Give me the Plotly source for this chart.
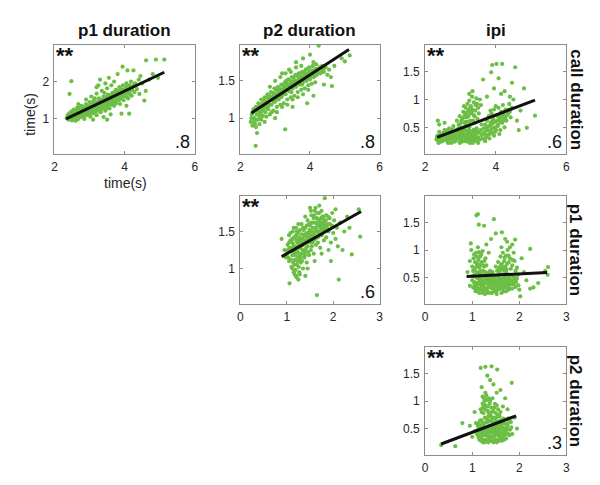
import plotly.graph_objects as go

# ---------------- data ----------------
# Panel: call duration (x) vs p1 duration (y)
call_p1_x = [2.35,2.38,2.40,2.42,2.45,2.48,2.50,2.52,2.55,2.57,
             2.60,2.62,2.65,2.67,2.70,2.72,2.75,2.77,2.80,2.82,
             2.85,2.87,2.90,2.92,2.95,2.97,3.00,3.02,3.05,3.07,
             3.10,3.12,3.15,3.17,3.20,3.22,3.25,3.27,3.30,3.32,
             3.35,3.37,3.40,3.42,3.45,3.47,3.50,3.52,3.55,3.57,
             3.60,3.62,3.65,3.67,3.70,3.72,3.75,3.77,3.80,3.82,
             3.85,3.87,3.90,3.92,3.95,3.97,4.00,4.02,4.05,4.08,
             4.10,4.12,4.15,4.18,4.20,4.25,4.28,4.30,4.35,4.40,
             2.45,2.55,2.62,2.70,2.78,2.85,2.92,3.00,3.05,3.12,
             3.18,3.25,3.30,3.38,3.45,3.50,3.55,3.62,3.70,3.78,
             2.50,2.58,2.66,2.74,2.82,2.88,2.95,3.02,3.08,3.15,
             3.22,3.28,3.35,3.42,3.48,3.58,3.65,3.72,3.85,3.95,
             2.48,2.43,3.30,3.45,3.55,3.94,4.08,3.20,3.70,4.50,
             4.60,4.70,4.45,4.61,4.89,5.13,4.80,4.56,3.91,4.13,
             4.05,3.60,3.40,3.10,4.42,4.95,4.25,3.80,2.60,3.50,
             2.40,2.43,2.47,2.52,2.54,2.58,2.61,2.64,2.66,2.69,
             2.71,2.73,2.76,2.79,2.81,2.84,2.86,2.89,2.91,2.94,
             2.96,2.99,3.01,3.04,3.06,3.09,3.11,3.14,3.16,3.19,
             3.21,3.24,3.26,3.29,3.31,3.34,3.36,3.39,3.41,3.44,
             3.46,3.49,3.51,3.54,3.56,3.59,3.61,3.64,3.66,3.69,
             3.71,3.74,3.76,3.79,3.81,3.84,3.86,3.89,3.91,3.94,
             3.96,3.99,4.01,4.04,4.07,4.11,4.14,4.17,4.22,4.27,
             2.68,2.90,3.05,3.20,3.35,3.50,3.62,3.25,3.42,3.15]
call_p1_y = [1.02,1.10,0.98,1.15,1.05,1.20,0.96,1.12,1.25,1.03,
             1.18,1.08,1.30,0.99,1.15,1.22,1.05,1.35,1.12,1.26,
             1.00,1.18,1.40,1.10,1.28,1.20,1.45,1.06,1.33,1.22,
             1.15,1.50,1.28,1.38,1.10,1.45,1.25,1.55,1.35,1.18,
             1.48,1.30,1.60,1.40,1.22,1.52,1.35,1.65,1.45,1.28,
             1.58,1.42,1.70,1.50,1.35,1.62,1.78,1.48,1.68,1.55,
             1.85,1.40,1.72,1.60,1.90,1.50,1.78,1.65,1.95,1.70,
             1.55,1.85,1.75,2.00,1.62,1.88,1.72,1.95,1.80,2.05,
             1.12,1.08,1.22,1.28,1.20,1.32,1.25,1.30,1.42,1.35,
             1.22,1.40,1.50,1.42,1.38,1.50,1.58,1.55,1.68,1.62,
             1.05,1.15,1.12,1.18,1.08,1.24,1.15,1.20,1.28,1.18,
             1.32,1.20,1.32,1.48,1.28,1.38,1.60,1.45,1.58,1.70,
             2.01,1.67,2.05,1.95,2.10,2.40,2.30,1.85,2.00,1.95,
             1.75,2.05,2.15,2.57,2.59,2.59,2.20,1.49,1.14,1.14,
             1.35,1.12,1.05,0.98,1.67,2.10,2.30,2.20,0.95,0.98,
             1.05,0.99,1.08,1.02,1.16,1.06,1.12,1.02,1.20,1.10,
             1.05,1.30,1.14,1.25,1.18,1.10,1.22,1.30,1.16,1.22,
             1.34,1.12,1.26,1.18,1.38,1.24,1.30,1.42,1.22,1.34,
             1.40,1.28,1.46,1.30,1.42,1.25,1.52,1.36,1.45,1.32,
             1.58,1.44,1.30,1.52,1.40,1.64,1.48,1.38,1.56,1.45,
             1.72,1.55,1.42,1.58,1.75,1.50,1.66,1.55,1.80,1.62,
             1.78,1.60,1.70,1.85,1.58,1.68,1.90,1.65,1.78,1.92,
             1.40,1.52,1.60,1.68,1.75,1.82,1.90,1.90,1.70,1.55]

# Panel: call duration (x) vs p2 duration (y)
call_p2_x = [2.30,2.33,2.35,2.38,2.40,2.42,2.45,2.47,2.50,2.52,
             2.55,2.57,2.60,2.62,2.65,2.68,2.70,2.72,2.75,2.78,
             2.80,2.82,2.85,2.88,2.90,2.92,2.95,2.98,3.00,3.02,
             3.05,3.08,3.10,3.12,3.15,3.18,3.20,3.22,3.25,3.28,
             3.30,3.33,3.35,3.38,3.40,3.43,3.45,3.48,3.50,3.53,
             3.55,3.58,3.60,3.63,3.65,3.68,3.70,3.73,3.75,3.78,
             3.80,3.83,3.85,3.88,3.90,3.93,3.95,3.98,4.00,4.03,
             4.05,4.08,4.10,4.13,4.15,4.18,4.20,4.25,4.30,4.35,
             4.40,4.45,4.50,4.55,4.60,2.50,2.65,2.80,2.95,3.10,
             3.25,3.40,3.55,3.70,3.85,2.58,2.72,2.87,3.02,3.17,
             3.32,3.47,3.62,3.77,3.92,2.44,2.48,3.29,4.25,4.91,
             5.14,5.00,4.63,3.92,4.10,3.60,3.80,4.00,3.40,3.20,
             4.70,2.70,3.00,3.50,4.40,
             2.32,2.36,2.39,2.43,2.46,2.49,2.53,2.56,2.59,2.63,
             2.66,2.69,2.73,2.76,2.79,2.83,2.86,2.89,2.93,2.96,
             2.99,3.03,3.06,3.09,3.13,3.16,3.19,3.23,3.26,3.29,
             3.33,3.36,3.39,3.43,3.46,3.49,3.53,3.56,3.59,3.63,
             3.66,3.69,3.73,3.76,3.79,3.83,3.86,3.89,3.93,3.96,
             3.99,4.03,4.06,4.09,4.13,4.16,4.22,4.28,4.33,4.38,
             2.60,2.75,2.90,3.05,3.20,3.35,3.50,3.65,3.80,3.95,
             2.45,2.55,2.85,3.00,3.15,3.30,3.45,3.60,3.75,4.10]
call_p2_y = [0.95,1.05,0.90,1.12,1.00,0.93,1.15,1.05,0.98,1.20,
             1.08,1.00,1.25,1.12,1.03,1.18,1.28,1.08,1.20,1.32,
             1.12,1.25,1.05,1.35,1.18,1.28,1.10,1.40,1.22,1.32,
             1.15,1.42,1.25,1.35,1.18,1.45,1.30,1.38,1.20,1.48,
             1.32,1.42,1.25,1.52,1.36,1.45,1.28,1.55,1.40,1.48,
             1.30,1.58,1.42,1.50,1.35,1.60,1.45,1.55,1.38,1.62,
             1.48,1.56,1.40,1.65,1.50,1.60,1.44,1.68,1.52,1.62,
             1.46,1.70,1.55,1.64,1.48,1.72,1.58,1.66,1.60,1.70,
             1.62,1.68,1.58,1.65,1.55,1.10,1.15,1.20,1.30,1.35,
             1.40,1.45,1.50,1.52,1.60,1.18,1.22,1.28,1.38,1.28,
             1.50,1.35,1.58,1.45,1.55,0.63,0.80,0.85,1.97,1.80,
             1.84,1.76,1.43,1.20,1.30,1.75,1.80,1.85,1.65,1.60,
             1.70,0.95,1.00,1.15,1.45,
             1.00,1.08,0.95,1.10,0.98,1.14,1.04,1.16,1.06,1.20,
             1.10,1.24,1.14,1.28,1.16,1.30,1.18,1.24,1.34,1.22,
             1.32,1.26,1.38,1.30,1.40,1.32,1.38,1.44,1.34,1.40,
             1.46,1.38,1.44,1.50,1.42,1.48,1.54,1.44,1.50,1.56,
             1.48,1.54,1.60,1.50,1.56,1.62,1.52,1.58,1.66,1.56,
             1.62,1.56,1.64,1.60,1.56,1.66,1.62,1.68,1.62,1.66,
             0.98,1.02,1.08,1.08,1.15,1.18,1.25,1.28,1.32,1.38,
             0.88,0.92,1.42,1.50,1.55,1.60,1.62,1.68,1.70,1.75]

# Panel: call duration (x) vs ipi (y)
call_ipi_x = [2.32,2.35,2.38,2.40,2.45,2.48,2.50,2.55,2.58,2.60,
              2.65,2.68,2.70,2.72,2.75,2.78,2.80,2.83,2.85,2.88,
              2.90,2.93,2.95,2.98,3.00,3.03,3.05,3.08,3.10,3.13,
              3.15,3.18,3.20,3.23,3.25,3.28,3.30,3.33,3.35,3.38,
              3.40,3.43,3.45,3.48,3.50,3.55,3.60,2.62,2.78,2.92,
              3.05,3.20,3.35,2.50,2.70,2.88,3.00,3.12,3.27,3.42,
              2.90,2.98,3.05,3.08,3.12,3.15,3.18,3.20,3.22,3.25,
              3.28,3.30,3.33,3.35,3.38,3.40,3.43,3.45,3.48,3.50,
              3.02,3.15,3.28,3.40,3.52,3.55,3.25,3.10,3.60,3.58,
              3.65,3.70,3.72,3.75,3.78,3.80,3.83,3.85,3.88,3.90,
              3.93,3.95,3.98,4.00,4.03,4.05,4.08,4.10,4.13,4.15,
              4.18,4.20,4.23,4.25,4.28,4.30,4.35,4.38,4.42,4.45,
              3.68,3.82,3.95,4.10,3.75,3.90,4.05,4.20,3.85,4.00,
              3.90,4.02,4.18,3.87,4.55,4.08,3.64,3.34,4.88,5.11,
              4.60,4.46,4.40,4.25,3.95,4.70,4.50,3.75,4.15,4.80,
              2.55,2.40,4.65,3.70,3.50,2.36,
              2.34,2.37,2.42,2.44,2.47,2.52,2.53,2.57,2.61,2.63,
              2.66,2.69,2.73,2.74,2.77,2.81,2.82,2.86,2.87,2.91,
              2.94,2.96,2.99,3.01,3.04,3.07,3.09,3.11,3.14,3.17,
              3.19,3.21,3.24,3.26,3.29,3.31,3.34,3.36,3.39,3.41,
              3.44,3.46,3.49,3.53,3.57,3.62,3.66,3.69,3.73,3.77,
              3.81,3.84,3.87,3.91,3.94,3.97,4.01,4.04,4.07,4.11,
              4.14,4.17,4.21,4.24,4.27,4.32,4.36,4.40,3.03,3.10,
              3.17,3.22,3.27,3.32,3.37,3.42,3.47,3.23,3.36,3.13]
call_ipi_y = [0.28,0.35,0.22,0.42,0.30,0.25,0.38,0.45,0.28,0.33,
              0.22,0.48,0.36,0.27,0.42,0.31,0.52,0.24,0.38,0.45,
              0.29,0.35,0.55,0.22,0.42,0.32,0.48,0.26,0.38,0.58,
              0.30,0.44,0.24,0.36,0.50,0.28,0.40,0.33,0.22,0.46,
              0.30,0.38,0.25,0.42,0.32,0.28,0.36,0.40,0.40,0.42,
              0.35,0.32,0.30,0.30,0.30,0.32,0.28,0.25,0.22,0.45,
              0.62,0.70,0.65,0.78,0.72,0.85,0.68,0.92,0.80,0.98,
              0.75,0.88,1.05,0.82,0.95,0.70,0.90,1.02,0.65,0.85,
              0.58,0.60,0.62,0.58,0.75,1.00,1.10,0.88,0.55,0.90,
              0.40,0.55,0.32,0.62,0.45,0.70,0.38,0.58,0.75,0.48,
              0.65,0.82,0.42,0.60,0.72,0.52,0.85,0.65,0.45,0.78,
              0.58,0.90,0.70,0.50,0.82,0.62,0.75,0.92,0.68,0.85,
              0.28,0.30,0.35,0.38,0.50,0.62,0.70,0.75,0.80,0.88,
              1.62,1.64,1.64,1.49,1.58,1.38,1.36,1.15,0.49,0.71,
              0.62,1.30,1.05,1.15,1.20,0.80,1.00,1.05,1.10,1.20,
              0.58,0.55,0.45,0.25,0.22,0.62,
              0.32,0.26,0.36,0.24,0.33,0.27,0.41,0.36,0.26,0.45,
              0.31,0.40,0.34,0.22,0.46,0.35,0.28,0.42,0.26,0.36,
              0.48,0.30,0.38,0.50,0.24,0.42,0.33,0.46,0.36,0.28,
              0.52,0.40,0.30,0.44,0.35,0.25,0.42,0.36,0.28,0.40,
              0.34,0.48,0.27,0.40,0.45,0.30,0.48,0.38,0.44,0.36,
              0.52,0.44,0.55,0.40,0.58,0.50,0.45,0.62,0.55,0.72,
              0.60,0.68,0.62,0.78,0.66,0.72,0.82,0.78,0.62,0.68,
              0.76,0.70,0.84,0.78,0.72,0.80,0.92,0.60,0.62,0.52]

# Panel: p1 duration (x) vs p2 duration (y)
p1_p2_x = [1.00,1.02,1.05,1.05,1.08,1.10,1.10,1.12,1.13,1.15,
           1.15,1.18,1.18,1.20,1.20,1.22,1.23,1.25,1.25,1.27,
           1.28,1.30,1.30,1.32,1.32,1.35,1.35,1.37,1.38,1.40,
           1.40,1.42,1.43,1.45,1.45,1.47,1.48,1.50,1.50,1.52,
           1.53,1.55,1.55,1.57,1.58,1.60,1.60,1.62,1.63,1.65,
           1.67,1.68,1.70,1.70,1.72,1.73,1.75,1.77,1.78,1.80,
           1.80,1.82,1.85,1.85,1.88,1.90,1.92,1.95,1.97,2.00,
           2.02,2.05,2.08,2.10,1.90,1.75,1.60,1.45,1.25,1.20,
           1.10,1.18,1.25,1.30,1.35,1.40,1.45,1.50,1.55,1.62,
           1.12,1.20,1.28,1.35,1.42,1.48,1.58,1.65,1.72,1.78,
           1.15,1.22,1.28,1.38,1.42,1.52,1.58,1.68,1.75,1.82,
           1.65,2.12,2.58,2.40,1.06,1.82,0.89,2.24,2.30,2.55,
           2.20,1.95,2.05,1.70,1.50,0.95,1.40,2.15,2.35,1.98,
           1.03,1.06,1.08,1.09,1.11,1.13,1.14,1.16,1.17,1.19,
           1.21,1.22,1.24,1.26,1.27,1.29,1.31,1.33,1.34,1.36,
           1.37,1.39,1.41,1.43,1.44,1.46,1.47,1.49,1.51,1.53,
           1.54,1.56,1.57,1.59,1.61,1.63,1.64,1.66,1.67,1.69,
           1.71,1.72,1.74,1.76,1.79,1.81,1.84,1.87,1.89,1.93,
           1.12,1.16,1.19,1.23,1.26,1.30,1.33,1.17,1.21,1.27,
           1.08,1.15,1.25,1.40,1.52,1.62,1.75,1.05,1.02,0.98]
p1_p2_y = [1.20,1.32,1.10,1.45,1.25,1.38,1.02,1.18,1.50,1.30,
           0.95,1.12,1.42,1.22,1.55,1.05,1.35,1.15,1.48,1.28,
           0.92,1.40,1.08,1.20,1.60,1.32,1.00,1.45,1.15,1.25,
           1.55,1.38,1.08,1.30,1.65,1.48,1.18,1.40,1.58,1.25,
           1.72,1.35,1.50,1.62,1.20,1.45,1.78,1.55,1.32,1.68,
           1.42,1.58,1.50,1.75,1.28,1.62,1.45,1.70,1.55,1.38,
           1.65,1.52,1.72,1.42,1.60,1.50,1.68,1.35,1.58,1.48,
           1.65,1.40,1.55,1.30,1.25,1.20,1.10,1.00,0.85,0.90,
           1.28,1.30,1.38,1.28,1.40,1.35,1.42,1.50,1.42,1.50,
           1.40,1.45,1.52,1.55,1.48,1.60,1.68,1.60,1.55,1.62,
           1.20,1.28,1.18,1.22,1.28,1.35,1.38,1.48,1.58,1.60,
           0.64,0.85,1.43,1.19,0.80,1.95,1.40,1.50,1.70,1.80,
           1.25,1.10,1.80,1.85,1.82,1.25,0.90,1.62,1.55,1.75,
           1.15,1.28,1.38,1.12,1.24,1.34,1.08,1.42,1.25,1.18,
           1.38,1.50,1.22,1.32,1.42,1.12,1.35,1.46,1.25,1.52,
           1.35,1.18,1.44,1.58,1.35,1.22,1.38,1.52,1.45,1.62,
           1.30,1.55,1.45,1.72,1.40,1.62,1.52,1.75,1.35,1.65,
           1.58,1.45,1.68,1.52,1.70,1.58,1.65,1.55,1.70,1.60,
           1.00,1.05,0.98,1.10,1.02,1.15,1.10,0.92,0.88,0.95,
           1.48,1.55,1.60,1.70,1.78,1.82,1.78,1.35,1.25,1.15]

# Panel: p1 duration (x) vs ipi (y)
p1_ipi_x = [1.00,1.02,1.05,1.07,1.08,1.10,1.12,1.13,1.15,1.17,
            1.18,1.20,1.22,1.23,1.25,1.27,1.28,1.30,1.32,1.33,
            1.35,1.37,1.38,1.40,1.42,1.43,1.45,1.47,1.48,1.50,
            1.52,1.53,1.55,1.57,1.58,1.60,1.62,1.63,1.65,1.67,
            1.68,1.70,1.72,1.73,1.75,1.77,1.78,1.80,1.82,1.85,
            1.87,1.90,1.92,1.95,1.98,2.00,1.15,1.25,1.35,1.45,
            1.55,1.65,1.75,1.10,1.20,1.30,1.40,1.50,1.60,1.70,
            1.05,1.18,1.28,1.38,1.48,1.58,1.68,1.80,1.90,1.25,
            1.00,1.03,1.05,1.08,1.10,1.12,1.15,1.17,1.20,1.22,
            1.25,1.28,1.30,0.95,0.98,1.10,1.50,1.55,1.58,1.60,
            1.63,1.65,1.68,1.70,1.72,1.75,1.78,1.80,1.85,1.88,
            1.90,1.95,1.62,1.80,1.09,1.12,1.46,1.14,1.25,1.50,
            1.91,2.23,2.61,2.02,2.23,2.30,2.60,0.90,1.40,1.30,
            1.70,2.10,2.15,1.85,2.40,1.35,2.05,0.95,2.55,0.97,
            1.63,1.74,
            1.01,1.04,1.06,1.09,1.11,1.14,1.16,1.19,1.21,1.24,
            1.26,1.29,1.31,1.34,1.36,1.39,1.41,1.44,1.46,1.49,
            1.51,1.54,1.56,1.59,1.61,1.64,1.66,1.69,1.71,1.74,
            1.76,1.79,1.81,1.84,1.86,1.89,1.93,1.97,1.12,1.22,
            1.32,1.42,1.52,1.62,1.72,1.18,1.28,1.38,1.58,1.68,
            1.02,1.06,1.09,1.13,1.16,1.19,1.23,1.26,1.04,1.14,
            1.56,1.61,1.66,1.69,1.74,1.77,1.82,1.86,1.92,1.73]
p1_ipi_y = [0.45,0.32,0.55,0.25,0.40,0.60,0.30,0.48,0.22,0.38,
            0.55,0.28,0.45,0.62,0.33,0.20,0.50,0.40,0.58,0.25,
            0.35,0.52,0.22,0.45,0.30,0.60,0.38,0.25,0.52,0.33,
            0.45,0.62,0.28,0.40,0.55,0.30,0.48,0.65,0.36,0.25,
            0.52,0.42,0.60,0.32,0.48,0.28,0.55,0.38,0.45,0.30,
            0.52,0.40,0.33,0.48,0.36,0.28,0.42,0.42,0.48,0.45,
            0.40,0.42,0.38,0.35,0.35,0.30,0.38,0.25,0.38,0.32,
            0.38,0.48,0.28,0.42,0.42,0.48,0.45,0.45,0.50,0.52,
            0.70,0.85,0.65,0.95,0.75,1.05,0.68,0.88,0.78,0.98,
            0.70,0.85,0.72,0.80,1.00,0.88,0.70,0.78,0.68,0.88,
            0.75,0.95,0.80,0.70,0.90,1.00,0.78,0.85,0.72,0.95,
            0.80,0.68,1.05,1.05,1.63,1.65,1.56,1.46,1.44,1.30,
            1.19,1.02,0.69,0.16,0.30,0.32,0.55,0.60,1.20,1.10,
            1.20,0.60,0.45,1.10,0.40,0.95,0.85,0.35,0.62,1.12,
            1.32,1.15,
            0.52,0.42,0.30,0.50,0.40,0.58,0.30,0.42,0.55,0.38,
            0.26,0.45,0.52,0.32,0.42,0.55,0.36,0.50,0.30,0.45,
            0.38,0.52,0.34,0.44,0.56,0.30,0.48,0.38,0.52,0.42,
            0.34,0.50,0.30,0.44,0.38,0.46,0.42,0.55,0.25,0.22,
            0.22,0.22,0.20,0.22,0.25,0.62,0.60,0.62,0.62,0.62,
            0.62,0.78,0.70,0.82,0.74,0.92,0.72,0.80,0.92,0.96,
            0.65,0.72,0.68,0.86,0.75,0.90,0.66,0.82,0.62,0.65]

# Panel: p2 duration (x) vs ipi (y)
p2_ipi_x = [1.10,1.12,1.15,1.17,1.18,1.20,1.22,1.23,1.25,1.27,
            1.28,1.30,1.32,1.33,1.35,1.37,1.38,1.40,1.42,1.43,
            1.45,1.47,1.48,1.50,1.52,1.53,1.55,1.57,1.58,1.60,
            1.62,1.63,1.65,1.67,1.68,1.70,1.72,1.75,1.77,1.80,
            1.20,1.30,1.40,1.50,1.60,1.25,1.35,1.45,1.55,1.65,
            1.15,1.22,1.32,1.42,1.52,1.62,1.72,1.28,1.38,1.48,
            1.58,1.05,1.08,1.00,1.85,1.82,1.75,1.45,1.35,1.55,
            1.20,1.22,1.25,1.27,1.30,1.32,1.35,1.38,1.40,1.45,
            1.48,1.50,1.55,1.60,1.25,1.28,1.22,1.35,1.18,1.65,
            0.34,0.64,0.79,1.95,1.18,1.28,1.41,1.53,1.32,1.84,
            1.20,1.45,1.60,1.70,1.38,1.05,0.95,1.90,1.75,1.52,
            1.11,1.13,1.14,1.16,1.19,1.21,1.24,1.26,1.29,1.31,
            1.34,1.36,1.39,1.41,1.44,1.46,1.49,1.51,1.54,1.56,
            1.59,1.61,1.64,1.66,1.69,1.71,1.74,1.76,1.79,1.83,
            1.18,1.26,1.34,1.42,1.52,1.60,1.68,1.20,1.30,1.40,
            1.50,1.58,1.66,1.24,1.28,1.33,1.37,1.42,1.26,1.31,
            1.23,1.47,1.52,1.57,1.43,1.34,1.46,1.62,1.72,1.78]
p2_ipi_y = [0.40,0.55,0.30,0.65,0.45,0.35,0.58,0.25,0.48,0.70,
            0.38,0.52,0.28,0.62,0.42,0.75,0.32,0.55,0.45,0.68,
            0.25,0.50,0.38,0.62,0.30,0.72,0.45,0.55,0.35,0.65,
            0.42,0.28,0.52,0.38,0.60,0.45,0.32,0.55,0.40,0.48,
            0.45,0.40,0.35,0.45,0.50,0.60,0.55,0.60,0.62,0.45,
            0.50,0.38,0.48,0.55,0.52,0.58,0.50,0.30,0.28,0.30,
            0.28,0.45,0.60,0.35,0.40,0.62,0.68,0.42,0.65,0.38,
            0.80,0.95,1.05,0.85,1.10,0.90,0.78,1.00,0.88,0.82,
            0.95,0.78,0.85,0.80,0.92,1.15,1.08,1.05,0.85,0.90,
            0.20,0.18,0.60,0.50,1.60,1.62,1.63,1.57,1.46,1.33,
            1.25,1.30,1.20,1.05,1.38,0.80,0.55,0.70,0.85,1.15,
            0.47,0.35,0.60,0.42,0.55,0.30,0.40,0.55,0.45,0.62,
            0.35,0.48,0.42,0.62,0.50,0.35,0.55,0.40,0.58,0.48,
            0.42,0.55,0.35,0.60,0.50,0.40,0.48,0.60,0.38,0.52,
            0.28,0.25,0.25,0.28,0.25,0.30,0.30,0.65,0.68,0.72,
            0.68,0.72,0.68,0.78,0.92,0.82,0.95,0.80,1.00,1.02,
            0.88,0.88,0.92,0.75,1.05,0.72,0.70,0.62,0.58,0.68]

# Regression lines (end points)
fit_x = [[2.33, 5.13], [2.32, 5.12], [2.34, 5.11], [0.89, 2.60], [0.88, 2.59], [0.34, 1.93]]
fit_y = [[1.00, 2.25], [1.07, 1.92], [0.32, 0.99], [1.16, 1.77], [0.52, 0.59], [0.22, 0.73]]

col_titles = ["p1 duration", "p2 duration", "ipi"]
row_titles = ["call duration", "p1 duration", "p2 duration"]
stars = ["**", "**", "**", "**", "", "**"]
r_labels = [".8", ".8", ".6", ".6", "", ".3"]

# ---------------- layout helpers ----------------
W, H = 600, 485
def px(x): return x / W
def py(y): return 1 - y / H

col_px = {1: (44, 186), 2: (232, 373), 3: (419, 562)}
row_px = {1: (37, 146), 2: (188, 296), 3: (339, 447)}

panels = [
    dict(row=1, col=1, x=call_p1_x, y=call_p1_y, xr=[2, 6], xt=[2, 4, 6], yr=[0.06, 2.98], yt=[1, 2]),
    dict(row=1, col=2, x=call_p2_x, y=call_p2_y, xr=[2, 6], xt=[2, 4, 6], yr=[0.52, 1.98], yt=[1, 1.5]),
    dict(row=1, col=3, x=call_ipi_x, y=call_ipi_y, xr=[2, 6], xt=[2, 4, 6], yr=[0.02, 1.98], yt=[0.5, 1, 1.5]),
    dict(row=2, col=2, x=p1_p2_x, y=p1_p2_y, xr=[0, 3], xt=[0, 1, 2, 3], yr=[0.52, 1.98], yt=[1, 1.5]),
    dict(row=2, col=3, x=p1_ipi_x, y=p1_ipi_y, xr=[0, 3], xt=[0, 1, 2, 3], yr=[0.02, 1.98], yt=[0.5, 1, 1.5]),
    dict(row=3, col=3, x=p2_ipi_x, y=p2_ipi_y, xr=[0, 3], xt=[0, 1, 2, 3], yr=[0.02, 1.98], yt=[0.5, 1, 1.5]),
]

FONT = "Liberation Sans, Arial, Helvetica, sans-serif"
GREEN = "rgb(108,190,69)"
AXC = "#8c8c8c"

fig = go.Figure()
layout = dict(width=W, height=H, margin=dict(l=0, r=0, t=0, b=0),
              paper_bgcolor="white", plot_bgcolor="white", showlegend=False,
              font=dict(family=FONT, color="#262626"))
annotations = []

for i, p in enumerate(panels):
    k = i + 1
    xa = "x" if k == 1 else f"x{k}"
    ya = "y" if k == 1 else f"y{k}"
    xname = "xaxis" if k == 1 else f"xaxis{k}"
    yname = "yaxis" if k == 1 else f"yaxis{k}"
    c0, c1 = col_px[p["col"]]
    r0, r1 = row_px[p["row"]]
    common = dict(showline=True, linecolor=AXC, linewidth=1, mirror="ticks",
                  ticks="inside", ticklen=3, tickcolor=AXC, tickwidth=1,
                  showgrid=False, zeroline=False,
                  tickfont=dict(size=12, color="#262626", family=FONT))
    layout[xname] = dict(domain=[px(c0), px(c1)], range=p["xr"], tickvals=p["xt"],
                         anchor=ya, ticklabelstandoff=2, **common)
    layout[yname] = dict(domain=[py(r1), py(r0)], range=p["yr"], tickvals=p["yt"],
                         anchor=xa, ticklabelstandoff=2, **common)
    fig.add_trace(go.Scatter(x=p["x"], y=p["y"], mode="markers", xaxis=xa, yaxis=ya,
                             marker=dict(size=4.2, color=GREEN, line=dict(width=0)),
                             hoverinfo="skip"))
    fig.add_trace(go.Scatter(x=fit_x[i], y=fit_y[i], mode="lines", xaxis=xa, yaxis=ya,
                             line=dict(color="#111111", width=3), hoverinfo="skip"))
    if stars[i]:
        annotations.append(dict(text="<b>" + stars[i] + "</b>", xref=f"{xa} domain", yref=f"{ya} domain",
                                x=0.0, y=1.04, xanchor="left", yanchor="top", showarrow=False,
                                font=dict(size=22, color="#111111", family=FONT)))
    if r_labels[i]:
        annotations.append(dict(text=r_labels[i], xref=f"{xa} domain", yref=f"{ya} domain",
                                x=0.98, y=0.0, xanchor="right", yanchor="bottom", showarrow=False,
                                font=dict(size=18, color="#111111", family=FONT)))

for j, t in enumerate(col_titles):
    c0, c1 = col_px[j + 1]
    annotations.append(dict(text=f"<b>{t}</b>", xref="paper", yref="paper",
                            x=px((c0 + c1) / 2), y=py(34), xanchor="center", yanchor="bottom",
                            showarrow=False, font=dict(size=17, color="#111111", family=FONT)))
for j, t in enumerate(row_titles):
    r0, r1 = row_px[j + 1]
    annotations.append(dict(text=f"<b>{t}</b>", xref="paper", yref="paper",
                            x=px(572), y=py((r0 + r1) / 2), xanchor="center", yanchor="middle",
                            textangle=90, showarrow=False,
                            font=dict(size=17, color="#111111", family=FONT)))

annotations.append(dict(text="time(s)", xref="paper", yref="paper", x=px(19), y=py(106),
                        xanchor="center", yanchor="middle", textangle=-90, showarrow=False,
                        font=dict(size=14, color="#262626", family=FONT)))
annotations.append(dict(text="time(s)", xref="paper", yref="paper", x=px(116), y=py(175),
                        xanchor="center", yanchor="middle", showarrow=False,
                        font=dict(size=14, color="#262626", family=FONT)))

layout["annotations"] = annotations
fig.update_layout(**layout)
fig.write_html("out.html")
